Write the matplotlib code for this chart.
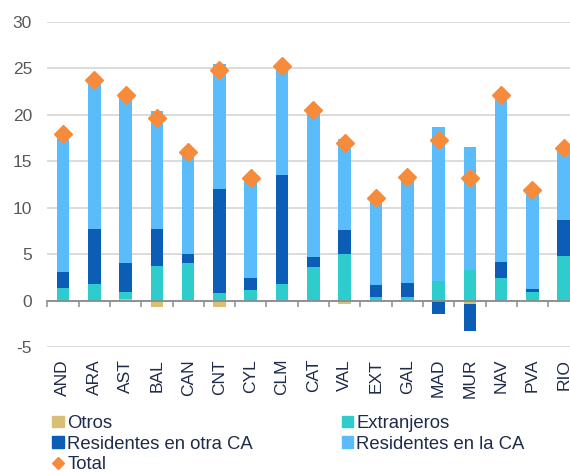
import numpy as np
import matplotlib.pyplot as plt
from matplotlib.patches import Patch
from matplotlib.lines import Line2D

plt.rcParams["font.family"] = ["Liberation Sans", "DejaVu Sans"]
plt.rcParams["axes.unicode_minus"] = False

regiones = ["AND", "ARA", "AST", "BAL", "CAN", "CNT", "CYL", "CLM", "CAT",
            "VAL", "EXT", "GAL", "MAD", "MUR", "NAV", "PVA", "RIO"]
otros = [-0.1, 0.0, 0.2, -0.7, 0.1, -0.65, 0.0, -0.1, 0.0,
         -0.35, 0.0, 0.0, 0.0, -0.35, 0.0, 0.0, -0.15]
extranjeros = [1.34, 1.77, 0.7, 3.7, 4.0, 0.84, 1.12, 1.77, 3.6,
               5.0, 0.41, 0.37, 2.16, 3.34, 2.41, 0.91, 4.77]
res_otra_ca = [1.75, 5.96, 3.2, 3.96, 0.97, 11.22, 1.33, 11.7, 1.1,
               2.65, 1.22, 1.47, -1.4, -2.9, 1.71, 0.32, 3.86]
res_la_ca = [14.9, 16.0, 18.0, 12.74, 10.9, 13.4, 10.7, 11.9, 15.8,
             9.7, 9.43, 11.5, 16.54, 13.16, 17.98, 10.67, 7.92]
total = [17.9, 23.7, 22.1, 19.7, 16.0, 24.8, 13.2, 25.3, 20.5,
         17.0, 11.06, 13.34, 17.3, 13.25, 22.1, 11.9, 16.4]

series = [
    ("Otros", otros, "#D9BE76"),
    ("Extranjeros", extranjeros, "#2ECCCC"),
    ("Residentes en otra CA", res_otra_ca, "#0B5DB5"),
    ("Residentes en la CA", res_la_ca, "#5BBCFC"),
]
col_total = "#F68B3B"
texto = "#1F2B4B"

fig = plt.figure(figsize=(5.7, 4.72), dpi=100)
ax = fig.add_axes([0.083, 0.2648, 0.9335, 0.6886])

x = np.arange(len(regiones))
pos = np.zeros(len(regiones))
neg = np.zeros(len(regiones))
for nombre, vals, color in series:
    v = np.array(vals)
    base = np.where(v >= 0, pos, neg)
    ax.bar(x, v, bottom=base, width=0.4, color=color, zorder=2)
    pos = pos + np.where(v >= 0, v, 0)
    neg = neg + np.where(v < 0, v, 0)

ax.plot(x, total, "D", color=col_total, markersize=9.5, linestyle="none", zorder=3)

ax.set_xlim(-0.5, len(regiones) - 0.5)
ax.set_ylim(-5, 30)
ax.set_yticks(np.arange(-5, 31, 5))
ax.yaxis.grid(True, color="#D9D9D9", linewidth=1.3, zorder=0)
ax.set_axisbelow(True)

for s in ["top", "right", "left"]:
    ax.spines[s].set_visible(False)
ax.spines["bottom"].set_position(("data", 0))
ax.spines["bottom"].set_color("#8C8C8C")
ax.spines["bottom"].set_linewidth(1.3)
ax.spines["bottom"].set_zorder(4)

ax.set_xticks(x)
ax.set_xticklabels(regiones, rotation=90, fontsize=12.5, color=texto)
ax.set_xticks(np.arange(len(regiones) + 1) - 0.5, minor=True)
ax.tick_params(axis="x", which="major", length=0, pad=42)
ax.tick_params(axis="x", which="minor", length=4, width=1.1, color="#8C8C8C")
ax.tick_params(axis="y", length=0, pad=11, labelsize=12.5, labelcolor="#595959")

h = {n: Patch(color=c) for n, _, c in series}
h_total = Line2D([], [], marker="D", color=col_total, linestyle="none", markersize=6.5)
handles = [h["Otros"], h["Residentes en otra CA"], h_total,
           h["Extranjeros"], h["Residentes en la CA"]]
labels = ["Otros", "Residentes en otra CA", "Total",
          "Extranjeros", "Residentes en la CA"]
fig.legend(handles, labels, loc="upper left", bbox_to_anchor=(0.092, 0.121),
           ncol=2, frameon=False, fontsize=13.3, labelcolor=texto,
           handlelength=0.6, handleheight=0.6, handletextpad=0.2,
           labelspacing=0.2, columnspacing=4.8, borderpad=0, borderaxespad=0)

fig.savefig("out.png", dpi=100)
